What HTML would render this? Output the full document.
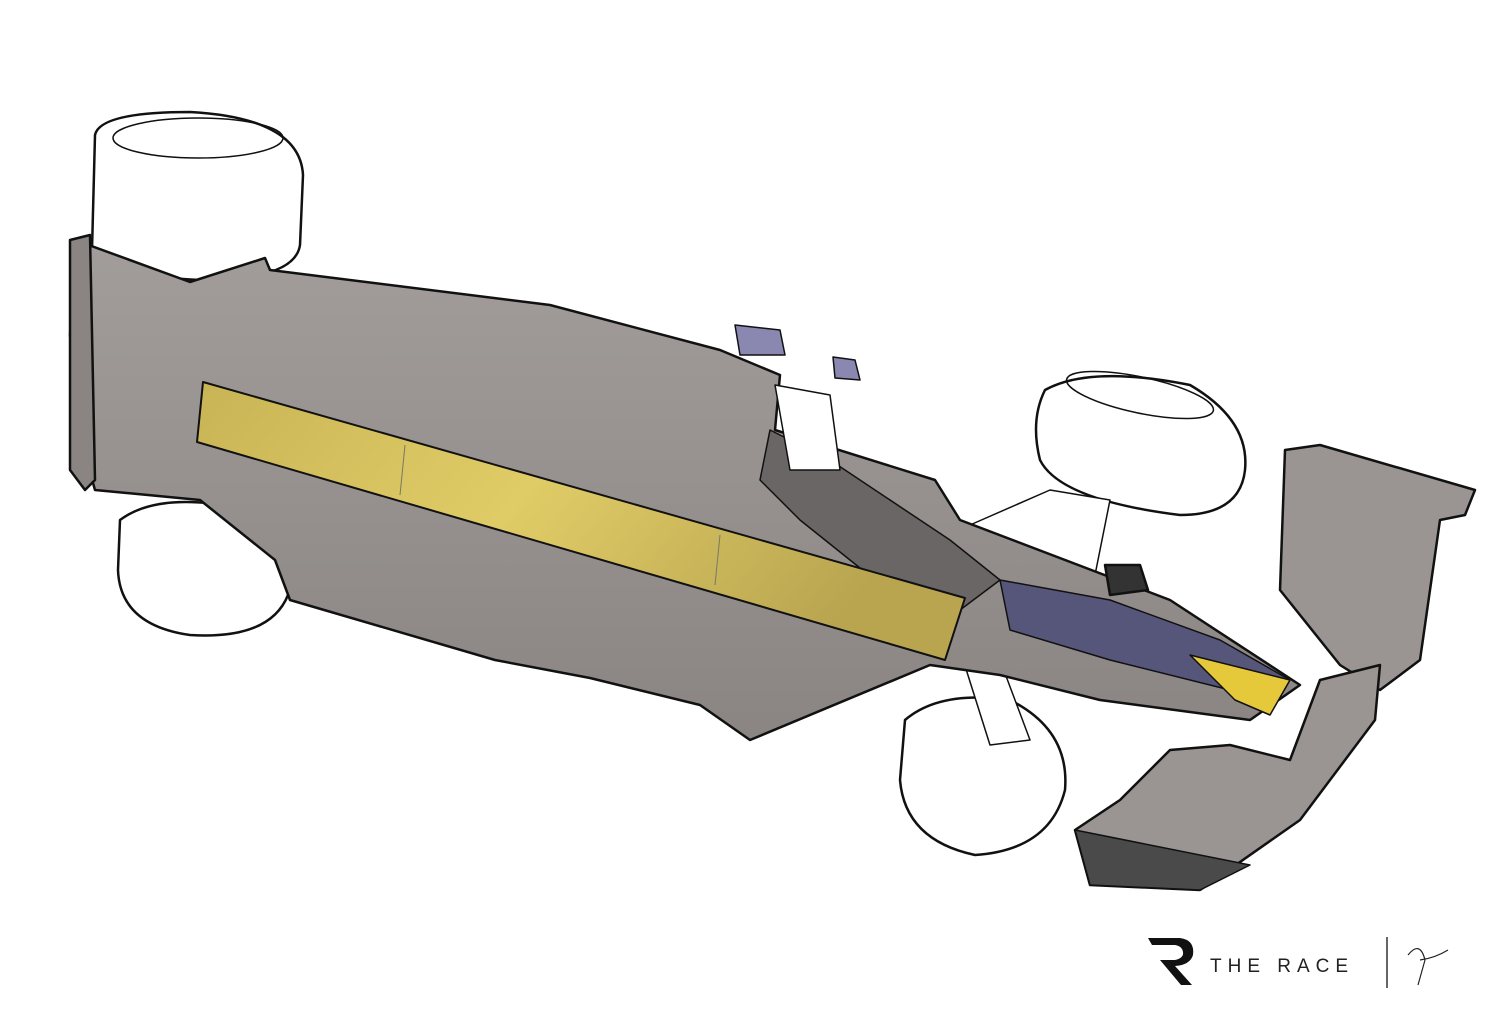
<!DOCTYPE html>
<html><head><meta charset="utf-8"><style>
html,body{margin:0;padding:0;background:#fff;width:1500px;height:1034px;overflow:hidden}
svg{display:block}
</style></head><body>
<svg width="1500" height="1034" viewBox="0 0 1500 1034" xmlns="http://www.w3.org/2000/svg">
<defs>
<linearGradient id="gold" x1="0" y1="0" x2="1" y2="0.3">
<stop offset="0" stop-color="#c8b455"/><stop offset="0.5" stop-color="#e0cc66"/><stop offset="1" stop-color="#b9a550"/></linearGradient>
<linearGradient id="gr" x1="0" y1="0" x2="0" y2="1">
<stop offset="0" stop-color="#a29d9a"/><stop offset="1" stop-color="#8a8583"/></linearGradient>
</defs>
<g stroke="#111" stroke-width="2.5" stroke-linejoin="round">
<path d="M95 135 Q100 112 190 112 Q300 118 303 175 L300 245 Q295 280 200 280 Q100 275 92 250 Z" fill="#fff"/>
<ellipse cx="198" cy="138" rx="85" ry="20" fill="none" stroke-width="1.5"/>
<path d="M120 520 Q160 490 250 510 Q295 540 288 595 Q270 640 190 635 Q120 625 118 570 Z" fill="#fff"/>
<path d="M905 720 Q940 690 1010 700 Q1070 730 1065 790 Q1050 850 975 855 Q905 840 900 780 Z" fill="#fff"/>
<path d="M1045 390 Q1090 365 1190 385 Q1250 420 1245 470 Q1240 515 1180 515 Q1060 500 1040 460 Q1030 420 1045 390 Z" fill="#fff"/>
<ellipse cx="1140" cy="395" rx="75" ry="18" fill="none" stroke-width="1.5" transform="rotate(12 1140 395)"/>
<path d="M970 525 L1050 490 L1110 500 L1090 600 L1030 610 Z" fill="#fff" stroke-width="1.5"/>
<path d="M960 650 L1000 660 L1030 740 L990 745 Z" fill="#fff" stroke-width="1.5"/>
<path d="M75 240 L190 282 L265 258 L270 270 L550 305 L720 350 L780 375 L775 430 L935 480 L960 520 L1170 600 L1300 685 L1250 720 L1100 700 L1000 675 L930 665 L750 740 L700 705 L590 678 L495 660 L290 600 L275 560 L200 500 L95 490 L78 430 L70 335 Z" fill="url(#gr)"/>
<path d="M770 430 L830 460 L950 540 L1000 580 L960 610 L900 600 L800 520 L760 480 Z" fill="#6a6665" stroke-width="1.5"/>
<path d="M1000 580 L1110 600 L1220 640 L1290 680 L1230 690 L1110 660 L1010 630 Z" fill="#56557a" stroke-width="1.5"/>
<path d="M1190 655 L1290 680 L1270 715 L1235 700 Z" fill="#e6c93a" stroke-width="1.5"/>
<path d="M775 385 L830 395 L840 470 L790 470 Z" fill="#fff" stroke-width="1.5"/>
<path d="M735 325 L780 330 L785 355 L740 355 Z" fill="#8a88b0" stroke-width="1.5"/>
<path d="M833 357 L855 360 L860 380 L835 378 Z" fill="#8a88b0" stroke-width="1.5"/>
<path d="M1105 565 L1140 565 L1148 590 L1110 595 Z" fill="#333"/>
<path d="M203 382 L965 598 L945 660 L197 442 Z" fill="url(#gold)" stroke-width="2"/>
<line x1="405" y1="445" x2="400" y2="495" stroke="#776" stroke-width="1"/>
<line x1="720" y1="535" x2="715" y2="585" stroke="#776" stroke-width="1"/>
<path d="M70 240 L90 235 L95 480 L85 490 L70 470 Z" fill="#8a8583"/>
<path d="M1285 450 L1320 445 L1475 490 L1465 515 L1440 520 L1420 660 L1380 690 L1340 665 L1280 590 Z" fill="#9a9593"/>
<path d="M1320 680 L1380 665 L1375 720 L1300 820 L1200 890 L1090 885 L1075 830 L1120 800 L1170 750 L1230 745 L1290 760 Z" fill="#9a9593"/>
<path d="M1075 830 L1250 865 L1200 890 L1090 885 Z" fill="#4a4a4a" stroke-width="1.5"/>
</g>
<g fill="#111">
<path d="M1148 938 L1180 938 Q1195 940 1193 955 Q1190 965 1175 966 L1192 985 L1181 985 L1160 960 L1175 960 Q1184 958 1183 952 Q1182 946 1175 945 L1152 945 Z"/>
</g>
<text x="1210" y="972" font-family="Liberation Sans, sans-serif" font-size="19" letter-spacing="6" fill="#222">THE RACE</text>
<line x1="1387" y1="937" x2="1387" y2="988" stroke="#333" stroke-width="1.5"/>
<path d="M1408 955 Q1420 940 1425 960 L1418 985 M1420 960 Q1435 958 1448 950" stroke="#222" stroke-width="1.2" fill="none"/>
</svg>
</body></html>
